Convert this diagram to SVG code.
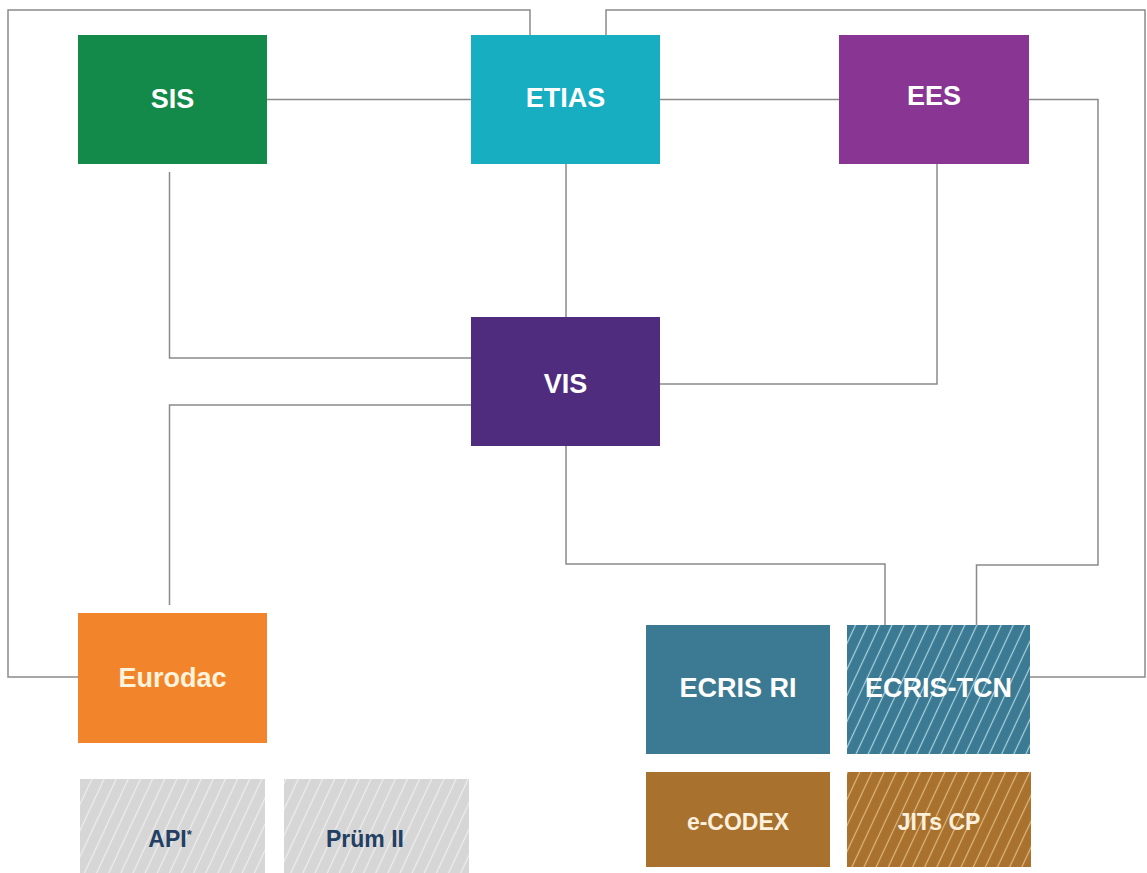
<svg xmlns="http://www.w3.org/2000/svg" width="1147" height="873" viewBox="0 0 1147 873">
<style>
.lbl{font-family:"Liberation Sans",Arial,sans-serif;font-weight:bold;text-anchor:middle;fill:#ffffff}
.big{font-size:27px}
.mid{font-size:23px}
.sm{font-size:23px}
.conn{fill:none;stroke:#8a8a8a;stroke-width:1.5}
</style>
<defs>
<pattern id="hBlue" width="11" height="11" patternUnits="userSpaceOnUse" patternTransform="rotate(25)">
<rect width="11" height="11" fill="#3b7a92"/>
<line x1="5.5" y1="0" x2="5.5" y2="11" stroke="#a9d3e3" stroke-width="1.2"/>
</pattern>
<pattern id="hBrown" width="11" height="11" patternUnits="userSpaceOnUse" patternTransform="rotate(25)">
<rect width="11" height="11" fill="#a8712e"/>
<line x1="5.5" y1="0" x2="5.5" y2="11" stroke="#e0b87c" stroke-width="1.2"/>
</pattern>
<pattern id="hGrey" width="11" height="11" patternUnits="userSpaceOnUse" patternTransform="rotate(25)">
<rect width="11" height="11" fill="#d6d6d6"/>
<line x1="5.5" y1="0" x2="5.5" y2="11" stroke="#eeeeee" stroke-width="1.2"/>
</pattern>
</defs>
<rect width="1147" height="873" fill="#ffffff"/>
<g id="connectors">
<polyline class="conn" points="78,677 8,677 8,10 530,10 530,35"/>
<polyline class="conn" points="606,35 606,10 1145,10 1145,677 1030,677"/>
<line class="conn" x1="267" y1="99.5" x2="471" y2="99.5"/>
<line class="conn" x1="660" y1="99.5" x2="839" y2="99.5"/>
<line class="conn" x1="566" y1="164" x2="566" y2="317"/>
<polyline class="conn" points="169.5,172 169.5,358 471,358"/>
<polyline class="conn" points="169.5,605 169.5,405 471,405"/>
<polyline class="conn" points="937,164 937,384 660,384"/>
<polyline class="conn" points="566,446 566,564 885,564 885,625"/>
<polyline class="conn" points="1029,99.5 1098,99.5 1098,565 976.5,565 976.5,625"/>
</g>
<g id="SIS"><rect x="78" y="35" width="189" height="129" fill="#138a4a"/><text class="lbl big" x="172.5" y="108">SIS</text></g>
<g id="ETIAS"><rect x="471" y="35" width="189" height="129" fill="#16aec0"/><text class="lbl big" x="565.5" y="107">ETIAS</text></g>
<g id="EES"><rect x="839" y="35" width="190" height="129" fill="#893593"/><text class="lbl big" x="934" y="105">EES</text></g>
<g id="VIS"><rect x="471" y="317" width="189" height="129" fill="#4f2c7d"/><text class="lbl big" x="565.5" y="393">VIS</text></g>
<g id="Eurodac"><rect x="78" y="613" width="189" height="130" fill="#f2852c"/><text class="lbl big" x="172.5" y="687" style="fill:#fff3dc">Eurodac</text></g>
<g id="ECRIS-RI"><rect x="646" y="625" width="184" height="129" fill="#3b7a92"/><text class="lbl big" x="738" y="697">ECRIS RI</text></g>
<g id="ECRIS-TCN"><rect x="847" y="625" width="183" height="129" fill="url(#hBlue)"/><text class="lbl big" x="938.5" y="697">ECRIS-TCN</text></g>
<g id="e-CODEX"><rect x="646" y="772" width="184" height="95" fill="#a8712e"/><text class="lbl mid" x="738" y="830" style="fill:#fdf0dc">e-CODEX</text></g>
<g id="JITs-CP"><rect x="847" y="772" width="184" height="95" fill="url(#hBrown)"/><text class="lbl mid" x="939" y="830" style="fill:#fdf0dc">JITs CP</text></g>
<g id="API"><rect x="80" y="779" width="185" height="94" fill="url(#hGrey)"/><text class="lbl sm" x="170" y="847" style="fill:#233f63">API<tspan font-size="13" dy="-8">*</tspan></text></g>
<g id="Prum-II"><rect x="284" y="779" width="185" height="94" fill="url(#hGrey)"/><text class="lbl sm" x="365" y="847" style="fill:#233f63">Prüm II</text></g>
</svg>
